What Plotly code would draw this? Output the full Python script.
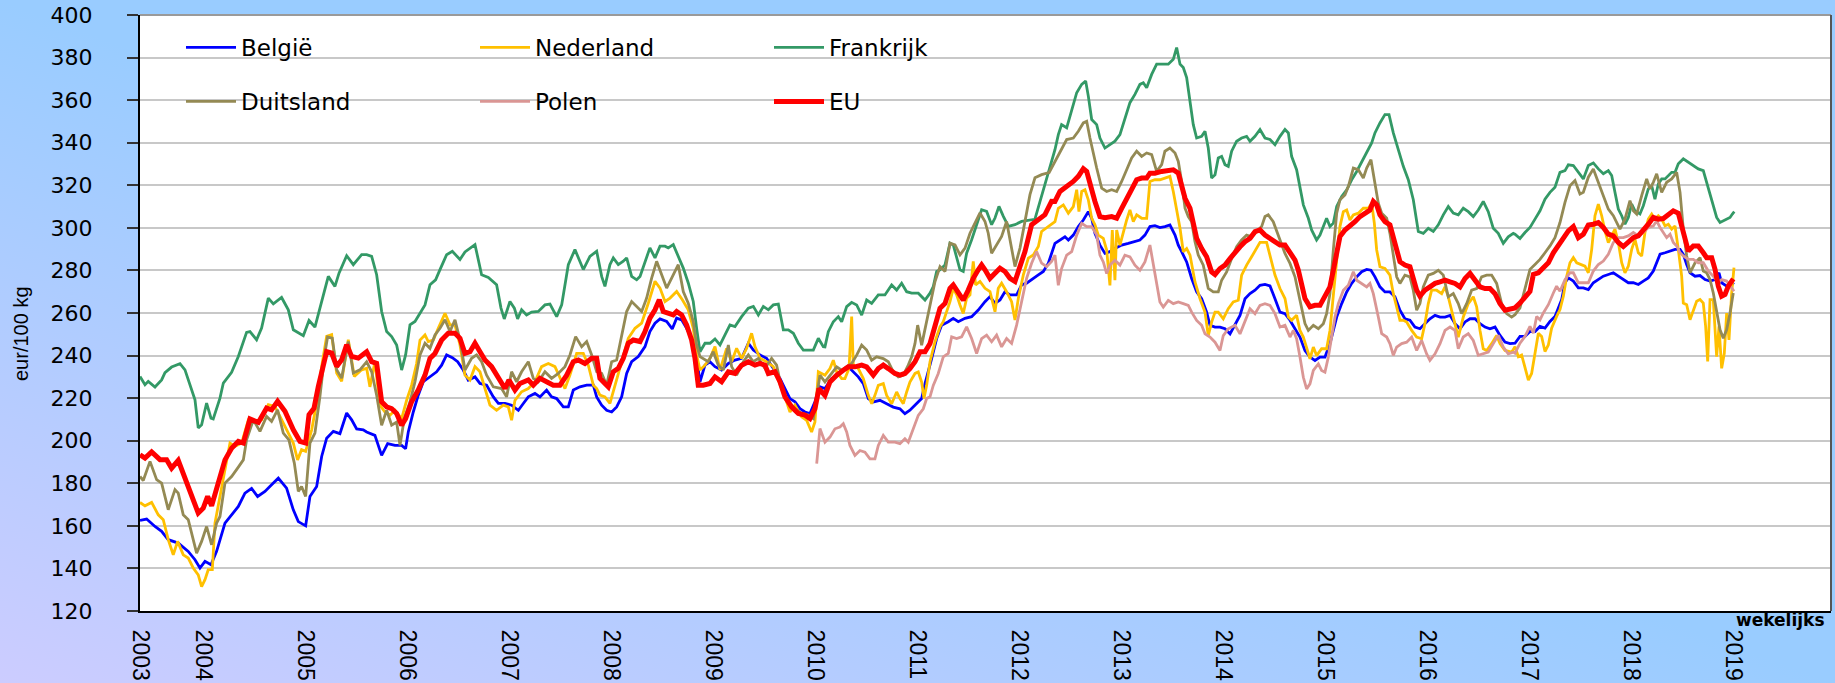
import base64
import plotly.graph_objects as go

# ---------------- data (decimal year, eur/100 kg) ----------------
X_START = 2003.377
X_END = 2019.955
YEARS = list(range(2004, 2020))
TICK_VALS = [X_START] + YEARS
TICK_TEXT = ["2003"] + [str(y) for y in YEARS]
Y_TICKS = list(range(120, 401, 20))

BELGIE = [
    (2003.377, 162.6), (2003.442, 163.2), (2003.524, 159.7), (2003.589, 157.4), (2003.654, 153.5),
    (2003.752, 151.9), (2003.850, 148.0), (2003.916, 144.1), (2003.965, 140.2), (2004.014, 143.3),
    (2004.073, 141.7), (2004.128, 148.0), (2004.210, 161.3), (2004.275, 165.2), (2004.341, 169.1),
    (2004.406, 175.4), (2004.471, 177.6), (2004.530, 173.8), (2004.602, 176.2), (2004.667, 179.3),
    (2004.733, 182.4), (2004.814, 177.7), (2004.880, 167.5), (2004.929, 162.0), (2005.001, 160.0),
    (2005.043, 173.8), (2005.109, 178.5), (2005.158, 192.6), (2005.207, 201.2), (2005.272, 204.4),
    (2005.337, 203.3), (2005.403, 213.0), (2005.452, 209.8), (2005.501, 205.5), (2005.566, 205.1),
    (2005.599, 204.1), (2005.680, 202.5), (2005.746, 193.1), (2005.805, 198.6), (2005.877, 197.8),
    (2005.942, 197.8), (2005.981, 196.2), (2006.007, 204.1), (2006.056, 213.5), (2006.105, 221.4),
    (2006.154, 227.7), (2006.220, 230.0), (2006.285, 232.4), (2006.334, 235.5), (2006.383, 240.3),
    (2006.439, 239.0), (2006.491, 237.1), (2006.546, 233.2), (2006.595, 228.5), (2006.661, 230.0),
    (2006.710, 226.9), (2006.775, 226.1), (2006.841, 220.6), (2006.890, 217.5), (2006.955, 217.5),
    (2007.020, 216.7), (2007.086, 214.3), (2007.135, 217.5), (2007.184, 220.6), (2007.249, 222.2),
    (2007.298, 220.6), (2007.363, 223.8), (2007.412, 220.6), (2007.462, 219.8), (2007.527, 215.9),
    (2007.576, 215.9), (2007.625, 223.8), (2007.690, 225.3), (2007.756, 226.1), (2007.821, 226.1),
    (2007.854, 220.6), (2007.903, 216.7), (2007.952, 214.3), (2008.001, 213.5), (2008.050, 215.9),
    (2008.099, 220.6), (2008.148, 231.6), (2008.197, 237.1), (2008.262, 239.5), (2008.328, 244.2),
    (2008.376, 251.3), (2008.426, 255.2), (2008.475, 257.2), (2008.540, 256.0), (2008.595, 252.5),
    (2008.638, 257.6), (2008.687, 256.8), (2008.736, 252.8), (2008.785, 248.1), (2008.834, 238.7),
    (2008.867, 227.7), (2008.916, 235.5), (2008.965, 237.1), (2009.014, 234.8), (2009.079, 233.2),
    (2009.145, 236.3), (2009.210, 237.9), (2009.275, 238.7), (2009.341, 245.8), (2009.390, 242.6),
    (2009.455, 240.3), (2009.520, 238.7), (2009.586, 234.0), (2009.651, 229.3), (2009.700, 224.5),
    (2009.749, 219.8), (2009.798, 218.3), (2009.847, 215.1), (2009.896, 213.5), (2009.945, 212.8),
    (2009.994, 218.3), (2010.043, 225.3), (2010.092, 224.5), (2010.158, 229.2), (2010.223, 230.8),
    (2010.272, 233.1), (2010.321, 234.7), (2010.370, 232.3), (2010.419, 230.0), (2010.468, 226.8),
    (2010.517, 219.8), (2010.566, 218.2), (2010.631, 219.0), (2010.697, 217.4), (2010.762, 215.8),
    (2010.827, 215.0), (2010.876, 212.7), (2010.925, 214.3), (2010.975, 216.6), (2011.007, 218.2),
    (2011.040, 219.8), (2011.073, 226.8), (2011.105, 232.3), (2011.138, 238.6), (2011.187, 248.0),
    (2011.236, 254.3), (2011.301, 255.9), (2011.350, 257.5), (2011.399, 255.9), (2011.465, 257.5),
    (2011.530, 258.3), (2011.595, 261.4), (2011.661, 265.3), (2011.710, 267.7), (2011.759, 264.5),
    (2011.808, 266.1), (2011.857, 270.0), (2011.906, 268.5), (2011.971, 268.5), (2012.020, 273.2),
    (2012.069, 274.0), (2012.118, 275.5), (2012.184, 277.9), (2012.233, 279.5), (2012.282, 283.4),
    (2012.347, 292.7), (2012.396, 294.3), (2012.445, 295.8), (2012.478, 294.3), (2012.527, 296.6),
    (2012.576, 300.6), (2012.625, 303.7), (2012.674, 307.6), (2012.707, 304.5), (2012.739, 297.4),
    (2012.788, 291.9), (2012.837, 288.0), (2012.886, 288.8), (2012.935, 290.3), (2013.001, 291.9),
    (2013.066, 292.7), (2013.131, 293.5), (2013.180, 294.3), (2013.229, 296.6), (2013.278, 300.6),
    (2013.327, 301.0), (2013.376, 300.1), (2013.425, 300.6), (2013.474, 301.4), (2013.524, 296.6),
    (2013.556, 291.9), (2013.589, 288.8), (2013.638, 284.0), (2013.687, 276.2), (2013.736, 269.9),
    (2013.785, 266.7), (2013.834, 260.4), (2013.867, 254.2), (2013.916, 253.4), (2013.965, 253.4),
    (2014.014, 252.6), (2014.063, 250.2), (2014.112, 254.9), (2014.161, 258.9), (2014.210, 266.7),
    (2014.259, 269.1), (2014.308, 270.7), (2014.357, 273.0), (2014.406, 273.4), (2014.455, 272.7),
    (2014.504, 266.7), (2014.553, 260.4), (2014.602, 259.7), (2014.651, 256.6), (2014.700, 252.6),
    (2014.749, 248.7), (2014.798, 242.4), (2014.847, 239.3), (2014.896, 237.7), (2014.945, 239.3),
    (2014.994, 239.3), (2015.043, 245.6), (2015.076, 251.8), (2015.109, 258.1), (2015.158, 264.4),
    (2015.207, 269.9), (2015.256, 273.9), (2015.305, 277.0), (2015.354, 279.4), (2015.403, 280.5),
    (2015.445, 280.1), (2015.484, 277.0), (2015.533, 272.3), (2015.582, 269.9), (2015.631, 269.9),
    (2015.680, 267.6), (2015.729, 261.3), (2015.778, 257.3), (2015.827, 256.6), (2015.876, 253.4),
    (2015.925, 252.6), (2015.974, 255.0), (2016.023, 257.3), (2016.073, 258.9), (2016.122, 258.1),
    (2016.171, 258.1), (2016.220, 258.9), (2016.269, 255.0), (2016.318, 252.6), (2016.367, 255.8),
    (2016.416, 257.3), (2016.465, 257.3), (2016.514, 255.0), (2016.563, 253.4), (2016.612, 252.6),
    (2016.661, 253.4), (2016.710, 249.5), (2016.759, 246.3), (2016.808, 245.6), (2016.857, 245.8),
    (2016.906, 249.0), (2016.955, 249.0), (2017.004, 251.3), (2017.053, 251.3), (2017.102, 253.7),
    (2017.151, 252.9), (2017.200, 256.0), (2017.249, 258.4), (2017.282, 262.4), (2017.315, 266.3),
    (2017.347, 274.2), (2017.380, 276.5), (2017.429, 275.0), (2017.478, 271.8), (2017.527, 271.8),
    (2017.576, 271.0), (2017.625, 274.2), (2017.674, 275.7), (2017.723, 277.3), (2017.772, 278.1),
    (2017.821, 278.9), (2017.870, 277.3), (2017.919, 275.7), (2017.968, 274.2), (2018.017, 274.2),
    (2018.066, 273.4), (2018.115, 275.0), (2018.164, 276.5), (2018.213, 279.7), (2018.246, 283.6),
    (2018.279, 287.6), (2018.328, 288.3), (2018.377, 289.1), (2018.426, 289.9), (2018.475, 289.9),
    (2018.507, 287.6), (2018.540, 282.8), (2018.573, 278.9), (2018.622, 277.3), (2018.671, 277.6),
    (2018.720, 275.7), (2018.769, 275.0), (2018.818, 275.7), (2018.857, 278.9), (2018.883, 274.2),
    (2018.932, 272.6), (2018.981, 274.2), (2019.004, 273.4),
]

NEDERLAND = [
    (2003.377, 171.0), (2003.426, 169.4), (2003.491, 171.0), (2003.556, 165.2), (2003.605, 162.9),
    (2003.654, 153.5), (2003.703, 146.4), (2003.746, 152.7), (2003.801, 146.4), (2003.850, 144.9),
    (2003.899, 140.2), (2003.948, 137.0), (2003.981, 131.5), (2004.014, 134.7), (2004.046, 139.4),
    (2004.086, 139.4), (2004.112, 161.3), (2004.161, 173.8), (2004.210, 186.4), (2004.259, 198.9),
    (2004.308, 197.3), (2004.373, 198.9), (2004.439, 209.8), (2004.504, 209.1), (2004.569, 209.8),
    (2004.635, 216.9), (2004.700, 216.1), (2004.765, 209.8), (2004.831, 203.6), (2004.880, 198.9),
    (2004.922, 191.0), (2004.961, 195.8), (2005.001, 195.0), (2005.060, 205.1), (2005.109, 217.7),
    (2005.158, 234.9), (2005.207, 249.0), (2005.256, 249.8), (2005.305, 231.8), (2005.354, 227.9),
    (2005.419, 247.4), (2005.478, 230.2), (2005.550, 233.3), (2005.599, 234.0), (2005.631, 225.3),
    (2005.680, 237.1), (2005.729, 216.7), (2005.778, 213.5), (2005.827, 212.0), (2005.877, 214.3),
    (2005.942, 210.4), (2005.991, 219.0), (2006.040, 226.1), (2006.089, 236.3), (2006.122, 247.3),
    (2006.171, 249.7), (2006.203, 246.6), (2006.252, 247.3), (2006.301, 252.8), (2006.367, 259.9),
    (2006.416, 254.4), (2006.465, 254.4), (2006.514, 245.0), (2006.563, 230.8), (2006.612, 228.5),
    (2006.661, 234.8), (2006.710, 232.4), (2006.759, 224.5), (2006.808, 216.7), (2006.873, 214.3),
    (2006.939, 216.7), (2006.988, 215.9), (2007.020, 209.6), (2007.053, 219.0), (2007.118, 223.0),
    (2007.184, 224.5), (2007.249, 227.7), (2007.314, 234.8), (2007.380, 236.3), (2007.445, 234.8),
    (2007.494, 229.3), (2007.543, 224.5), (2007.592, 230.8), (2007.658, 241.0), (2007.723, 241.0),
    (2007.772, 235.5), (2007.821, 226.1), (2007.854, 224.5), (2007.886, 221.4), (2007.935, 220.6),
    (2007.984, 217.5), (2008.033, 226.1), (2008.099, 237.1), (2008.164, 248.1), (2008.230, 252.8),
    (2008.295, 255.2), (2008.360, 264.6), (2008.426, 274.9), (2008.475, 271.7), (2008.524, 265.4),
    (2008.573, 267.0), (2008.638, 270.1), (2008.694, 266.2), (2008.752, 261.5), (2008.801, 252.8),
    (2008.834, 240.3), (2008.867, 233.2), (2008.916, 235.5), (2008.965, 238.7), (2009.014, 244.2),
    (2009.063, 233.2), (2009.128, 243.4), (2009.177, 237.1), (2009.226, 243.4), (2009.275, 238.7),
    (2009.324, 243.4), (2009.373, 250.5), (2009.406, 244.2), (2009.455, 238.7), (2009.520, 237.1),
    (2009.586, 234.8), (2009.651, 226.9), (2009.716, 218.3), (2009.749, 213.5), (2009.798, 216.7),
    (2009.863, 211.2), (2009.912, 209.6), (2009.961, 204.1), (2009.994, 208.8), (2010.027, 232.4),
    (2010.092, 230.8), (2010.141, 233.9), (2010.174, 237.8), (2010.207, 232.3), (2010.256, 229.2),
    (2010.288, 229.2), (2010.328, 233.9), (2010.354, 258.3), (2010.370, 235.5), (2010.419, 233.9),
    (2010.468, 229.2), (2010.517, 221.3), (2010.550, 217.4), (2010.582, 221.3), (2010.615, 226.0),
    (2010.664, 226.8), (2010.697, 221.3), (2010.746, 217.4), (2010.795, 222.9), (2010.827, 219.8),
    (2010.860, 217.4), (2010.893, 222.9), (2010.925, 227.6), (2010.975, 231.6), (2011.007, 232.3),
    (2011.040, 227.6), (2011.063, 219.8), (2011.089, 226.0), (2011.122, 237.1), (2011.171, 246.5),
    (2011.220, 253.5), (2011.252, 255.9), (2011.285, 260.6), (2011.318, 265.3), (2011.350, 271.6),
    (2011.383, 268.5), (2011.416, 263.8), (2011.448, 259.8), (2011.481, 266.9), (2011.514, 268.5),
    (2011.546, 284.2), (2011.569, 273.2), (2011.612, 274.8), (2011.661, 271.6), (2011.710, 270.0),
    (2011.759, 260.6), (2011.791, 271.6), (2011.824, 274.0), (2011.873, 270.0), (2011.922, 265.3),
    (2011.955, 256.7), (2011.988, 266.9), (2012.037, 277.9), (2012.086, 285.8), (2012.135, 287.3),
    (2012.184, 291.2), (2012.216, 298.3), (2012.265, 300.0), (2012.314, 301.5), (2012.347, 302.9),
    (2012.380, 309.2), (2012.429, 310.8), (2012.478, 306.9), (2012.527, 310.0), (2012.560, 317.9),
    (2012.582, 307.6), (2012.609, 317.1), (2012.641, 317.9), (2012.674, 313.2), (2012.707, 304.5),
    (2012.739, 301.4), (2012.772, 296.6), (2012.821, 295.1), (2012.854, 289.6), (2012.886, 273.0),
    (2012.909, 299.0), (2012.935, 275.4), (2012.952, 299.0), (2012.984, 291.9), (2013.017, 298.2),
    (2013.050, 303.7), (2013.082, 308.4), (2013.115, 302.9), (2013.148, 306.1), (2013.197, 304.5),
    (2013.246, 304.5), (2013.278, 321.8), (2013.327, 322.6), (2013.376, 322.6), (2013.425, 323.4),
    (2013.474, 324.2), (2013.507, 317.1), (2013.540, 309.2), (2013.573, 299.8), (2013.605, 288.8),
    (2013.638, 290.3), (2013.671, 287.2), (2013.720, 274.6), (2013.769, 266.7), (2013.818, 260.4),
    (2013.850, 249.4), (2013.883, 255.7), (2013.916, 260.4), (2013.948, 260.4), (2013.997, 257.3),
    (2014.046, 262.0), (2014.095, 265.2), (2014.144, 266.0), (2014.177, 277.8), (2014.226, 282.5),
    (2014.275, 286.4), (2014.324, 290.3), (2014.357, 293.2), (2014.422, 293.2), (2014.455, 287.2),
    (2014.504, 277.8), (2014.553, 271.5), (2014.602, 266.8), (2014.635, 258.1), (2014.667, 256.6),
    (2014.716, 258.9), (2014.749, 251.8), (2014.782, 248.7), (2014.814, 243.2), (2014.847, 238.5),
    (2014.880, 244.0), (2014.912, 240.0), (2014.961, 243.2), (2015.010, 243.2), (2015.043, 251.8),
    (2015.076, 269.1), (2015.109, 286.4), (2015.141, 300.6), (2015.174, 307.6), (2015.207, 308.4),
    (2015.239, 303.7), (2015.272, 306.1), (2015.321, 306.9), (2015.370, 309.2), (2015.419, 309.2),
    (2015.452, 311.6), (2015.478, 302.2), (2015.501, 289.6), (2015.533, 281.7), (2015.582, 280.9),
    (2015.631, 277.8), (2015.664, 269.1), (2015.697, 262.9), (2015.729, 256.6), (2015.762, 256.6),
    (2015.795, 255.8), (2015.844, 251.8), (2015.893, 248.7), (2015.942, 247.9), (2015.974, 255.0),
    (2016.007, 264.4), (2016.040, 270.7), (2016.089, 270.7), (2016.138, 269.1), (2016.171, 272.3),
    (2016.203, 267.6), (2016.252, 258.1), (2016.301, 248.7), (2016.350, 258.1), (2016.399, 264.4),
    (2016.448, 267.6), (2016.481, 262.9), (2016.514, 251.8), (2016.546, 243.2), (2016.579, 242.4),
    (2016.628, 245.6), (2016.677, 249.5), (2016.710, 245.6), (2016.759, 242.4), (2016.824, 241.6),
    (2016.857, 244.2), (2016.890, 239.5), (2016.922, 240.3), (2016.955, 234.8), (2016.988, 228.5),
    (2017.020, 231.6), (2017.053, 241.1), (2017.086, 250.5), (2017.118, 249.0), (2017.151, 241.9),
    (2017.184, 245.0), (2017.216, 252.9), (2017.265, 258.4), (2017.298, 261.6), (2017.331, 267.9),
    (2017.364, 277.3), (2017.396, 283.6), (2017.429, 286.0), (2017.462, 283.6), (2017.511, 282.8),
    (2017.543, 282.0), (2017.576, 278.9), (2017.609, 289.9), (2017.641, 305.7), (2017.674, 311.2),
    (2017.707, 305.7), (2017.739, 298.6), (2017.772, 293.1), (2017.805, 296.2), (2017.837, 299.4),
    (2017.870, 293.1), (2017.903, 283.6), (2017.935, 278.9), (2017.968, 282.0), (2018.001, 289.9),
    (2018.033, 294.6), (2018.066, 288.3), (2018.099, 286.8), (2018.131, 297.8), (2018.164, 304.1),
    (2018.197, 306.5), (2018.229, 304.1), (2018.262, 305.7), (2018.295, 304.1), (2018.328, 300.9),
    (2018.360, 301.7), (2018.393, 299.4), (2018.426, 300.9), (2018.458, 289.9), (2018.491, 277.3),
    (2018.507, 264.7), (2018.540, 263.9), (2018.573, 256.8), (2018.605, 261.6), (2018.638, 265.5),
    (2018.671, 266.3), (2018.703, 264.7), (2018.726, 253.7), (2018.746, 237.2), (2018.769, 266.3),
    (2018.801, 266.3), (2018.834, 239.5), (2018.857, 253.7), (2018.883, 234.0), (2018.909, 241.1),
    (2018.932, 260.0), (2018.955, 247.4), (2018.981, 269.4), (2019.004, 281.3),
]

FRANKRIJK = [
    (2003.377, 230.2), (2003.426, 226.3), (2003.458, 227.9), (2003.524, 225.2), (2003.589, 228.6),
    (2003.622, 232.0), (2003.687, 234.6), (2003.769, 236.2), (2003.818, 233.3), (2003.883, 223.2),
    (2003.916, 219.2), (2003.948, 206.0), (2003.981, 207.5), (2004.030, 217.7), (2004.073, 210.6),
    (2004.095, 210.2), (2004.161, 220.0), (2004.194, 227.1), (2004.275, 232.1), (2004.341, 239.6),
    (2004.422, 250.9), (2004.455, 251.3), (2004.520, 247.4), (2004.569, 252.9), (2004.635, 267.0),
    (2004.684, 264.3), (2004.765, 267.3), (2004.831, 261.5), (2004.880, 252.1), (2004.978, 249.3),
    (2005.034, 256.5), (2005.092, 253.4), (2005.158, 265.0), (2005.223, 277.2), (2005.288, 272.5),
    (2005.328, 278.7), (2005.403, 286.9), (2005.468, 282.7), (2005.550, 287.4), (2005.599, 287.4),
    (2005.648, 286.6), (2005.697, 278.0), (2005.746, 260.7), (2005.795, 251.3), (2005.844, 248.9),
    (2005.893, 245.0), (2005.942, 233.2), (2005.981, 240.3), (2006.024, 254.4), (2006.073, 256.0),
    (2006.122, 259.9), (2006.171, 263.8), (2006.220, 273.3), (2006.275, 275.6), (2006.318, 280.4),
    (2006.383, 287.4), (2006.439, 289.0), (2006.481, 286.6), (2006.514, 285.1), (2006.563, 288.7),
    (2006.612, 290.6), (2006.661, 292.1), (2006.726, 278.0), (2006.792, 276.7), (2006.873, 273.3),
    (2006.916, 262.3), (2006.948, 257.2), (2007.004, 265.4), (2007.047, 262.3), (2007.079, 257.2),
    (2007.118, 261.5), (2007.167, 259.1), (2007.216, 260.4), (2007.282, 260.7), (2007.347, 263.8),
    (2007.396, 264.2), (2007.462, 258.3), (2007.511, 263.8), (2007.576, 282.7), (2007.641, 289.8),
    (2007.723, 280.4), (2007.788, 286.6), (2007.854, 289.0), (2007.903, 277.2), (2007.935, 272.5),
    (2007.984, 282.7), (2008.017, 285.9), (2008.066, 282.7), (2008.115, 284.3), (2008.148, 285.9),
    (2008.197, 277.2), (2008.246, 275.6), (2008.279, 277.2), (2008.328, 284.3), (2008.376, 290.6),
    (2008.426, 285.9), (2008.475, 291.4), (2008.524, 291.4), (2008.556, 290.6), (2008.605, 292.1),
    (2008.654, 286.6), (2008.703, 281.1), (2008.752, 274.1), (2008.801, 265.4), (2008.834, 252.8),
    (2008.867, 241.8), (2008.916, 245.8), (2008.965, 245.8), (2009.014, 247.8), (2009.063, 245.0),
    (2009.112, 249.7), (2009.161, 254.4), (2009.210, 253.6), (2009.275, 258.3), (2009.341, 262.3),
    (2009.390, 263.1), (2009.439, 259.1), (2009.488, 263.1), (2009.537, 261.5), (2009.586, 263.8),
    (2009.635, 264.2), (2009.684, 252.1), (2009.733, 252.1), (2009.782, 250.5), (2009.831, 245.8),
    (2009.880, 242.6), (2009.929, 242.6), (2009.978, 242.6), (2010.027, 248.1), (2010.076, 244.2),
    (2010.092, 244.1), (2010.125, 251.2), (2010.174, 255.9), (2010.223, 258.3), (2010.256, 255.9),
    (2010.305, 263.0), (2010.354, 265.0), (2010.403, 263.8), (2010.452, 259.0), (2010.501, 266.1),
    (2010.550, 264.5), (2010.615, 268.5), (2010.680, 268.5), (2010.746, 273.2), (2010.795, 270.8),
    (2010.844, 274.0), (2010.893, 270.0), (2010.942, 269.3), (2011.007, 269.3), (2011.073, 266.1),
    (2011.122, 269.3), (2011.154, 272.4), (2011.187, 279.5), (2011.220, 280.3), (2011.269, 282.6),
    (2011.318, 292.8), (2011.350, 292.0), (2011.383, 285.8), (2011.416, 280.3), (2011.448, 279.5),
    (2011.481, 288.1), (2011.530, 294.4), (2011.579, 301.5), (2011.628, 308.5), (2011.677, 307.7),
    (2011.726, 301.5), (2011.759, 304.6), (2011.798, 310.1), (2011.841, 305.4), (2011.890, 300.7),
    (2011.955, 301.5), (2012.020, 303.0), (2012.150, 304.0), (2012.250, 320.0), (2012.300, 328.0),
    (2012.347, 336.7), (2012.380, 343.8), (2012.412, 348.5), (2012.462, 347.0), (2012.511, 355.6),
    (2012.560, 363.5), (2012.609, 367.4), (2012.648, 369.0), (2012.674, 361.9), (2012.707, 350.9),
    (2012.756, 348.5), (2012.788, 342.2), (2012.837, 337.5), (2012.886, 339.1), (2012.935, 340.7),
    (2012.984, 343.8), (2013.033, 350.9), (2013.082, 358.8), (2013.131, 362.7), (2013.180, 367.4),
    (2013.213, 368.2), (2013.246, 365.8), (2013.295, 372.1), (2013.344, 376.9), (2013.393, 376.9),
    (2013.458, 376.9), (2013.507, 379.2), (2013.540, 384.7), (2013.573, 376.9), (2013.605, 375.3),
    (2013.638, 370.6), (2013.671, 359.6), (2013.703, 348.5), (2013.736, 342.2), (2013.785, 343.0),
    (2013.818, 345.4), (2013.850, 337.5), (2013.883, 323.4), (2013.916, 324.9), (2013.948, 332.8),
    (2013.981, 333.6), (2014.014, 329.7), (2014.046, 328.9), (2014.079, 336.0), (2014.128, 340.7),
    (2014.177, 342.2), (2014.226, 343.0), (2014.259, 340.7), (2014.308, 343.0), (2014.357, 346.2),
    (2014.406, 342.2), (2014.455, 341.5), (2014.504, 339.1), (2014.553, 343.0), (2014.602, 346.2),
    (2014.635, 344.6), (2014.667, 333.6), (2014.716, 327.3), (2014.749, 319.4), (2014.782, 310.8),
    (2014.831, 304.5), (2014.863, 299.0), (2014.912, 294.3), (2014.945, 296.6), (2014.978, 300.6),
    (2015.010, 304.5), (2015.043, 300.6), (2015.076, 302.2), (2015.109, 310.0), (2015.158, 314.7),
    (2015.207, 317.9), (2015.256, 322.6), (2015.305, 326.5), (2015.354, 331.2), (2015.403, 335.2),
    (2015.452, 339.9), (2015.484, 344.6), (2015.533, 349.3), (2015.582, 353.2), (2015.622, 353.2),
    (2015.664, 344.6), (2015.713, 336.7), (2015.762, 328.9), (2015.811, 322.6), (2015.860, 313.2),
    (2015.909, 298.3), (2015.958, 297.4), (2016.007, 299.8), (2016.056, 298.3), (2016.105, 301.4),
    (2016.154, 306.1), (2016.203, 310.0), (2016.252, 306.9), (2016.301, 306.1), (2016.350, 309.2),
    (2016.399, 307.6), (2016.448, 305.3), (2016.497, 308.4), (2016.546, 312.4), (2016.595, 307.6),
    (2016.644, 299.8), (2016.693, 297.4), (2016.742, 292.7), (2016.791, 295.8), (2016.840, 297.4),
    (2016.857, 297.0), (2016.906, 295.0), (2016.955, 297.8), (2017.004, 300.2), (2017.053, 304.1),
    (2017.102, 308.0), (2017.151, 313.5), (2017.200, 316.7), (2017.249, 319.1), (2017.298, 326.1),
    (2017.347, 326.9), (2017.380, 329.6), (2017.429, 329.3), (2017.478, 326.1), (2017.527, 323.0),
    (2017.576, 329.3), (2017.625, 330.5), (2017.674, 327.7), (2017.723, 325.4), (2017.772, 326.9),
    (2017.805, 324.6), (2017.837, 316.7), (2017.870, 308.8), (2017.903, 305.7), (2017.935, 301.7),
    (2017.968, 304.9), (2018.001, 311.2), (2018.033, 308.0), (2018.082, 306.5), (2018.115, 310.4),
    (2018.164, 318.3), (2018.197, 319.8), (2018.229, 313.5), (2018.262, 320.6), (2018.295, 323.0),
    (2018.328, 323.0), (2018.360, 324.6), (2018.393, 326.1), (2018.426, 326.1), (2018.458, 330.1),
    (2018.507, 332.4), (2018.556, 330.9), (2018.605, 329.3), (2018.654, 327.7), (2018.703, 326.9),
    (2018.736, 321.4), (2018.769, 315.1), (2018.801, 310.4), (2018.834, 304.9), (2018.867, 302.5),
    (2018.916, 303.8), (2018.965, 304.9), (2018.988, 306.5), (2019.007, 307.6),
]

DUITSLAND = [
    (2003.377, 183.2), (2003.409, 181.3), (2003.475, 190.3), (2003.540, 181.7), (2003.589, 180.1),
    (2003.654, 167.6), (2003.720, 177.0), (2003.752, 175.4), (2003.801, 165.2), (2003.850, 162.9),
    (2003.932, 147.2), (2003.981, 152.7), (2004.030, 159.7), (2004.079, 151.1), (2004.128, 161.3),
    (2004.161, 164.4), (2004.210, 180.1), (2004.275, 183.2), (2004.341, 187.6), (2004.390, 191.0),
    (2004.422, 200.4), (2004.488, 209.8), (2004.553, 204.4), (2004.618, 211.4), (2004.667, 209.1),
    (2004.726, 214.5), (2004.782, 203.6), (2004.837, 200.4), (2004.890, 189.5), (2004.929, 176.2),
    (2004.961, 178.5), (2005.001, 173.8), (2005.043, 198.9), (2005.092, 203.6), (2005.141, 220.8),
    (2005.190, 241.2), (2005.216, 248.7), (2005.262, 248.2), (2005.305, 233.3), (2005.354, 229.4),
    (2005.419, 246.6), (2005.468, 231.8), (2005.533, 233.3), (2005.599, 237.1), (2005.648, 232.4),
    (2005.697, 221.4), (2005.746, 207.3), (2005.795, 214.3), (2005.844, 207.3), (2005.893, 208.8),
    (2005.926, 197.8), (2005.968, 210.4), (2006.024, 218.3), (2006.073, 227.7), (2006.122, 240.3),
    (2006.171, 245.8), (2006.220, 243.4), (2006.269, 249.7), (2006.318, 252.8), (2006.367, 256.8),
    (2006.416, 251.3), (2006.465, 256.8), (2006.514, 247.3), (2006.563, 233.2), (2006.628, 238.7),
    (2006.677, 240.3), (2006.726, 237.1), (2006.775, 230.8), (2006.841, 225.3), (2006.922, 224.5),
    (2006.971, 220.6), (2007.020, 232.4), (2007.069, 227.7), (2007.118, 232.4), (2007.184, 237.1),
    (2007.233, 229.3), (2007.282, 227.7), (2007.347, 232.4), (2007.412, 229.3), (2007.478, 231.6),
    (2007.543, 234.8), (2007.592, 240.3), (2007.648, 248.9), (2007.707, 244.2), (2007.756, 246.6),
    (2007.805, 240.3), (2007.854, 232.4), (2007.903, 231.6), (2007.952, 226.1), (2008.001, 237.1),
    (2008.050, 237.9), (2008.099, 249.7), (2008.148, 260.7), (2008.197, 265.4), (2008.246, 263.1),
    (2008.295, 260.7), (2008.344, 267.0), (2008.393, 276.4), (2008.442, 284.3), (2008.491, 278.0),
    (2008.540, 271.7), (2008.589, 276.4), (2008.654, 282.7), (2008.703, 270.1), (2008.752, 264.6),
    (2008.801, 256.0), (2008.834, 245.0), (2008.867, 239.5), (2008.899, 238.7), (2008.948, 237.1),
    (2008.997, 241.8), (2009.046, 235.5), (2009.096, 233.2), (2009.145, 245.0), (2009.177, 234.8),
    (2009.226, 230.8), (2009.292, 237.1), (2009.341, 240.3), (2009.390, 237.1), (2009.439, 238.7),
    (2009.504, 234.0), (2009.569, 238.7), (2009.618, 235.5), (2009.667, 224.5), (2009.733, 218.3),
    (2009.798, 215.1), (2009.863, 212.8), (2009.929, 212.0), (2009.978, 210.4), (2010.011, 221.4),
    (2010.043, 230.8), (2010.092, 227.6), (2010.141, 230.8), (2010.207, 234.7), (2010.256, 233.1),
    (2010.305, 234.7), (2010.354, 236.3), (2010.403, 240.2), (2010.452, 244.9), (2010.501, 242.6),
    (2010.550, 237.8), (2010.599, 239.4), (2010.664, 238.6), (2010.713, 237.1), (2010.762, 232.3),
    (2010.811, 230.0), (2010.860, 230.8), (2010.909, 235.5), (2010.942, 239.4), (2010.975, 245.7),
    (2011.001, 254.3), (2011.040, 244.9), (2011.073, 252.8), (2011.122, 263.8), (2011.171, 274.8),
    (2011.220, 281.8), (2011.269, 279.5), (2011.318, 292.8), (2011.367, 292.0), (2011.416, 287.3),
    (2011.465, 290.5), (2011.514, 297.5), (2011.563, 302.2), (2011.612, 307.0), (2011.661, 303.0),
    (2011.693, 297.5), (2011.726, 288.1), (2011.775, 292.0), (2011.824, 296.0), (2011.873, 303.0),
    (2011.922, 290.5), (2011.955, 281.8), (2012.004, 290.5), (2012.053, 303.0), (2012.102, 315.6),
    (2012.151, 323.5), (2012.216, 325.0), (2012.290, 326.0), (2012.347, 331.2), (2012.412, 337.5),
    (2012.462, 341.5), (2012.527, 342.2), (2012.576, 345.4), (2012.625, 349.3), (2012.658, 350.1),
    (2012.690, 342.2), (2012.723, 334.4), (2012.756, 328.1), (2012.805, 318.7), (2012.854, 317.1),
    (2012.903, 317.9), (2012.952, 317.1), (2013.001, 321.8), (2013.050, 327.3), (2013.099, 332.8),
    (2013.148, 336.0), (2013.197, 333.6), (2013.246, 335.2), (2013.295, 334.4), (2013.344, 326.5),
    (2013.393, 329.7), (2013.425, 336.0), (2013.474, 337.5), (2013.524, 335.2), (2013.556, 331.2),
    (2013.589, 321.8), (2013.622, 309.2), (2013.654, 305.3), (2013.687, 302.9), (2013.720, 293.5),
    (2013.752, 287.2), (2013.801, 282.5), (2013.850, 271.5), (2013.899, 269.9), (2013.948, 269.9),
    (2013.981, 275.4), (2014.030, 279.3), (2014.079, 285.6), (2014.128, 291.1), (2014.177, 294.3),
    (2014.226, 296.6), (2014.275, 295.8), (2014.324, 298.2), (2014.373, 300.6), (2014.406, 305.3),
    (2014.438, 306.1), (2014.487, 302.9), (2014.537, 296.6), (2014.586, 290.3), (2014.602, 288.0),
    (2014.651, 283.3), (2014.700, 277.0), (2014.749, 266.0), (2014.798, 255.0), (2014.831, 251.8),
    (2014.880, 254.2), (2014.929, 252.6), (2014.978, 255.0), (2015.010, 259.7), (2015.043, 269.1),
    (2015.076, 289.6), (2015.109, 306.9), (2015.141, 313.2), (2015.190, 315.5), (2015.223, 319.4),
    (2015.272, 328.1), (2015.321, 327.3), (2015.370, 323.4), (2015.403, 328.1), (2015.445, 332.0),
    (2015.478, 322.6), (2015.517, 311.6), (2015.550, 306.9), (2015.599, 304.5), (2015.631, 297.4),
    (2015.664, 286.4), (2015.697, 277.0), (2015.729, 273.9), (2015.778, 277.8), (2015.827, 277.0),
    (2015.860, 270.7), (2015.893, 261.3), (2015.925, 264.4), (2015.958, 272.3), (2016.007, 277.8),
    (2016.056, 278.6), (2016.105, 280.1), (2016.154, 277.8), (2016.203, 267.6), (2016.252, 269.1),
    (2016.301, 264.4), (2016.334, 259.7), (2016.383, 264.4), (2016.432, 270.7), (2016.481, 271.5),
    (2016.530, 277.0), (2016.579, 277.8), (2016.628, 277.8), (2016.677, 273.9), (2016.726, 264.4),
    (2016.775, 259.7), (2016.824, 258.1), (2016.857, 259.2), (2016.906, 262.4), (2016.955, 271.0),
    (2017.004, 280.5), (2017.053, 282.8), (2017.102, 285.2), (2017.151, 288.3), (2017.200, 291.5),
    (2017.249, 295.4), (2017.298, 302.5), (2017.347, 312.0), (2017.396, 319.8), (2017.445, 322.2),
    (2017.494, 315.9), (2017.527, 316.7), (2017.576, 323.8), (2017.625, 327.7), (2017.674, 321.4),
    (2017.723, 315.1), (2017.772, 308.8), (2017.821, 305.7), (2017.854, 302.5), (2017.886, 299.4),
    (2017.935, 304.1), (2017.984, 312.8), (2018.017, 308.0), (2018.050, 306.5), (2018.099, 315.1),
    (2018.148, 323.0), (2018.180, 318.3), (2018.213, 321.4), (2018.246, 325.4), (2018.295, 316.7),
    (2018.344, 321.4), (2018.393, 323.0), (2018.442, 326.1), (2018.475, 316.7), (2018.507, 299.4),
    (2018.540, 286.8), (2018.573, 278.9), (2018.622, 283.6), (2018.671, 286.0), (2018.703, 279.7),
    (2018.736, 278.9), (2018.769, 275.7), (2018.801, 269.4), (2018.834, 260.0), (2018.867, 252.1),
    (2018.899, 248.2), (2018.932, 252.1), (2018.965, 260.0), (2018.997, 269.4),
]

POLEN = [
    (2010.011, 189.2), (2010.043, 205.7), (2010.092, 199.3), (2010.141, 201.7), (2010.190, 205.6),
    (2010.239, 206.4), (2010.272, 208.0), (2010.305, 204.1), (2010.337, 197.8), (2010.386, 193.1),
    (2010.435, 195.4), (2010.484, 194.6), (2010.533, 191.5), (2010.582, 191.5), (2010.615, 197.8),
    (2010.664, 202.5), (2010.713, 199.3), (2010.778, 199.3), (2010.827, 198.6), (2010.876, 200.9),
    (2010.909, 199.3), (2010.958, 205.6), (2011.007, 211.9), (2011.056, 215.0), (2011.089, 219.8),
    (2011.122, 220.6), (2011.154, 226.0), (2011.203, 231.6), (2011.252, 239.4), (2011.301, 241.0),
    (2011.334, 248.8), (2011.383, 248.0), (2011.432, 248.8), (2011.481, 253.5), (2011.530, 248.0),
    (2011.579, 241.0), (2011.628, 248.0), (2011.677, 249.6), (2011.726, 246.5), (2011.775, 249.6),
    (2011.824, 244.1), (2011.873, 248.0), (2011.922, 245.7), (2011.971, 254.3), (2012.020, 265.3),
    (2012.069, 276.3), (2012.118, 283.4), (2012.167, 288.9), (2012.216, 283.4), (2012.265, 281.8),
    (2012.314, 284.2), (2012.347, 287.2), (2012.380, 273.0), (2012.412, 280.9), (2012.462, 287.2),
    (2012.511, 288.8), (2012.560, 296.6), (2012.609, 302.1), (2012.658, 300.6), (2012.707, 300.6),
    (2012.756, 296.6), (2012.788, 287.2), (2012.821, 284.0), (2012.854, 278.5), (2012.886, 282.5),
    (2012.935, 284.8), (2012.984, 282.5), (2013.033, 287.2), (2013.082, 286.4), (2013.131, 282.5),
    (2013.180, 280.1), (2013.229, 284.0), (2013.278, 291.9), (2013.311, 282.5), (2013.344, 274.6),
    (2013.376, 265.2), (2013.409, 262.8), (2013.458, 265.9), (2013.507, 264.4), (2013.556, 265.2),
    (2013.605, 264.4), (2013.654, 263.6), (2013.687, 260.4), (2013.736, 256.5), (2013.785, 254.2),
    (2013.818, 250.2), (2013.867, 248.7), (2013.916, 246.3), (2013.965, 242.4), (2013.997, 249.4),
    (2014.046, 252.6), (2014.112, 254.2), (2014.161, 250.2), (2014.210, 256.5), (2014.259, 262.0),
    (2014.308, 259.7), (2014.357, 263.6), (2014.406, 264.4), (2014.455, 263.6), (2014.504, 259.7),
    (2014.553, 253.4), (2014.602, 254.2), (2014.651, 248.7), (2014.684, 251.8), (2014.716, 247.9),
    (2014.749, 239.3), (2014.782, 229.8), (2014.814, 224.3), (2014.847, 226.7), (2014.880, 233.0),
    (2014.929, 236.1), (2014.961, 233.0), (2014.994, 232.2), (2015.027, 239.3), (2015.060, 248.7),
    (2015.092, 258.1), (2015.125, 264.4), (2015.174, 270.7), (2015.223, 273.1), (2015.272, 279.4),
    (2015.305, 275.4), (2015.354, 273.9), (2015.403, 272.3), (2015.435, 273.9), (2015.468, 269.1),
    (2015.517, 258.1), (2015.550, 250.3), (2015.599, 248.7), (2015.631, 245.6), (2015.664, 240.1),
    (2015.697, 244.0), (2015.746, 245.6), (2015.795, 246.3), (2015.844, 248.7), (2015.893, 242.4),
    (2015.942, 247.1), (2015.991, 240.8), (2016.023, 237.7), (2016.073, 240.8), (2016.122, 245.6),
    (2016.171, 251.8), (2016.220, 253.4), (2016.269, 251.8), (2016.301, 243.2), (2016.350, 248.7),
    (2016.399, 250.3), (2016.448, 247.1), (2016.497, 240.1), (2016.546, 240.8), (2016.595, 241.6),
    (2016.644, 245.6), (2016.693, 249.5), (2016.742, 244.0), (2016.791, 240.8), (2016.840, 241.6),
    (2016.857, 241.1), (2016.906, 245.8), (2016.955, 249.0), (2017.004, 253.7), (2017.037, 250.5),
    (2017.069, 258.4), (2017.102, 256.8), (2017.135, 260.0), (2017.184, 263.9), (2017.233, 269.4),
    (2017.265, 272.6), (2017.298, 270.2), (2017.347, 275.7), (2017.396, 278.9), (2017.429, 278.9),
    (2017.478, 274.2), (2017.527, 274.2), (2017.576, 274.2), (2017.625, 279.7), (2017.674, 282.8),
    (2017.723, 284.4), (2017.772, 287.6), (2017.821, 293.1), (2017.870, 295.4), (2017.919, 295.4),
    (2017.968, 296.2), (2018.017, 297.8), (2018.066, 296.2), (2018.115, 297.8), (2018.164, 300.2),
    (2018.213, 300.9), (2018.246, 303.3), (2018.279, 300.2), (2018.311, 297.8), (2018.344, 295.4),
    (2018.377, 297.0), (2018.409, 293.1), (2018.442, 291.5), (2018.475, 288.3), (2018.507, 286.8),
    (2018.556, 285.2), (2018.605, 285.2), (2018.654, 283.6), (2018.703, 283.6), (2018.752, 279.7),
    (2018.801, 277.3), (2018.850, 274.2), (2018.883, 275.7), (2018.932, 275.0), (2018.981, 271.8),
    (2019.004, 270.2),
]

EU = [
    (2003.377, 193.4), (2003.426, 191.8), (2003.491, 194.7), (2003.573, 191.1), (2003.638, 191.1),
    (2003.687, 187.1), (2003.752, 190.8), (2003.818, 182.4), (2003.883, 175.4), (2003.948, 166.0),
    (2003.997, 168.3), (2004.040, 173.8), (2004.079, 169.4), (2004.144, 180.1), (2004.210, 191.0),
    (2004.275, 196.5), (2004.341, 199.7), (2004.390, 198.9), (2004.455, 210.2), (2004.537, 208.6),
    (2004.618, 215.3), (2004.667, 214.5), (2004.726, 218.5), (2004.798, 213.8), (2004.880, 205.1),
    (2004.945, 199.7), (2005.001, 198.9), (2005.034, 212.2), (2005.083, 215.3), (2005.125, 225.5),
    (2005.174, 234.9), (2005.207, 241.9), (2005.256, 241.2), (2005.305, 234.9), (2005.354, 238.0),
    (2005.403, 245.1), (2005.452, 239.6), (2005.517, 238.8), (2005.583, 241.2), (2005.599, 241.8),
    (2005.648, 237.1), (2005.697, 236.3), (2005.746, 218.3), (2005.795, 215.9), (2005.844, 215.1),
    (2005.893, 212.8), (2005.942, 207.3), (2005.981, 210.4), (2006.040, 218.3), (2006.105, 223.8),
    (2006.171, 230.8), (2006.220, 238.7), (2006.269, 241.0), (2006.334, 247.3), (2006.399, 250.5),
    (2006.465, 250.5), (2006.514, 248.1), (2006.563, 241.0), (2006.612, 241.8), (2006.661, 245.8),
    (2006.710, 241.8), (2006.759, 237.9), (2006.824, 234.8), (2006.890, 229.3), (2006.955, 224.5),
    (2006.994, 228.5), (2007.053, 223.8), (2007.102, 226.9), (2007.184, 228.5), (2007.233, 226.1),
    (2007.298, 229.3), (2007.363, 227.7), (2007.429, 226.1), (2007.494, 226.1), (2007.560, 230.8),
    (2007.625, 237.1), (2007.674, 237.9), (2007.739, 236.3), (2007.805, 238.7), (2007.854, 238.7),
    (2007.886, 229.3), (2007.935, 226.9), (2007.968, 225.3), (2008.017, 232.4), (2008.066, 234.0),
    (2008.115, 238.7), (2008.164, 245.8), (2008.213, 247.3), (2008.279, 246.6), (2008.328, 251.3),
    (2008.376, 257.6), (2008.426, 261.5), (2008.468, 266.2), (2008.507, 260.7), (2008.556, 259.9),
    (2008.605, 259.1), (2008.638, 260.7), (2008.687, 259.1), (2008.736, 254.4), (2008.785, 247.3),
    (2008.818, 238.7), (2008.850, 226.1), (2008.899, 226.1), (2008.965, 226.9), (2009.014, 230.0),
    (2009.079, 227.7), (2009.145, 232.4), (2009.210, 231.6), (2009.275, 235.5), (2009.341, 237.1),
    (2009.406, 235.5), (2009.455, 236.3), (2009.504, 235.5), (2009.537, 231.6), (2009.602, 232.4),
    (2009.651, 227.7), (2009.700, 220.6), (2009.765, 215.9), (2009.831, 212.8), (2009.896, 212.0),
    (2009.945, 210.4), (2009.994, 215.1), (2010.033, 224.5), (2010.092, 221.3), (2010.141, 227.6),
    (2010.207, 230.8), (2010.272, 233.1), (2010.321, 234.7), (2010.386, 234.7), (2010.452, 235.5),
    (2010.501, 234.7), (2010.566, 230.8), (2010.615, 233.9), (2010.664, 235.5), (2010.713, 233.9),
    (2010.778, 231.6), (2010.827, 230.8), (2010.876, 231.6), (2010.925, 233.9), (2010.975, 237.1),
    (2011.024, 241.8), (2011.073, 241.8), (2011.122, 245.7), (2011.171, 254.3), (2011.220, 262.2),
    (2011.269, 264.5), (2011.318, 271.6), (2011.350, 273.2), (2011.399, 270.0), (2011.448, 266.1),
    (2011.497, 270.8), (2011.546, 276.3), (2011.595, 280.3), (2011.628, 282.6), (2011.661, 280.3),
    (2011.710, 276.3), (2011.759, 278.7), (2011.808, 281.0), (2011.857, 279.5), (2011.906, 276.3),
    (2011.955, 274.8), (2012.004, 282.6), (2012.053, 288.9), (2012.118, 301.5), (2012.184, 303.8),
    (2012.249, 306.2), (2012.314, 312.5), (2012.347, 312.4), (2012.396, 317.1), (2012.462, 319.4),
    (2012.527, 321.8), (2012.576, 324.2), (2012.625, 327.8), (2012.658, 326.5), (2012.690, 320.2),
    (2012.739, 312.4), (2012.788, 305.3), (2012.837, 304.8), (2012.903, 305.3), (2012.952, 304.5),
    (2013.001, 309.2), (2013.050, 313.9), (2013.099, 318.7), (2013.148, 322.6), (2013.197, 323.4),
    (2013.246, 323.4), (2013.278, 325.7), (2013.327, 325.7), (2013.393, 326.5), (2013.458, 327.3),
    (2013.507, 327.3), (2013.556, 325.7), (2013.589, 320.2), (2013.622, 313.9), (2013.671, 309.2),
    (2013.703, 302.9), (2013.736, 295.1), (2013.785, 290.3), (2013.834, 286.4), (2013.883, 279.3),
    (2013.916, 278.1), (2013.965, 280.9), (2014.014, 282.5), (2014.063, 285.6), (2014.112, 288.8),
    (2014.161, 291.1), (2014.210, 293.5), (2014.259, 295.1), (2014.308, 298.2), (2014.357, 299.0),
    (2014.406, 296.6), (2014.455, 295.1), (2014.504, 293.5), (2014.553, 291.9), (2014.602, 291.9),
    (2014.651, 288.0), (2014.700, 284.9), (2014.733, 280.1), (2014.765, 273.9), (2014.798, 266.8),
    (2014.847, 262.9), (2014.896, 263.6), (2014.945, 263.6), (2014.994, 267.6), (2015.043, 272.3),
    (2015.076, 280.1), (2015.109, 289.6), (2015.141, 295.9), (2015.190, 299.0), (2015.239, 300.6),
    (2015.288, 302.9), (2015.337, 305.3), (2015.386, 306.9), (2015.435, 308.4), (2015.468, 312.4),
    (2015.501, 310.8), (2015.533, 306.1), (2015.582, 302.9), (2015.631, 301.4), (2015.664, 295.9),
    (2015.697, 289.6), (2015.729, 284.1), (2015.778, 282.5), (2015.827, 281.7), (2015.860, 276.2),
    (2015.893, 270.7), (2015.925, 267.9), (2015.974, 270.7), (2016.023, 272.3), (2016.073, 273.9),
    (2016.122, 274.6), (2016.171, 275.4), (2016.220, 274.6), (2016.269, 273.9), (2016.318, 272.3),
    (2016.367, 276.2), (2016.416, 278.6), (2016.465, 275.4), (2016.514, 272.3), (2016.563, 271.5),
    (2016.612, 271.5), (2016.661, 269.1), (2016.710, 264.4), (2016.759, 261.3), (2016.808, 262.1),
    (2016.857, 262.4), (2016.906, 264.7), (2016.955, 267.1), (2017.004, 270.2), (2017.037, 278.1),
    (2017.086, 278.9), (2017.135, 281.3), (2017.184, 283.6), (2017.233, 288.3), (2017.282, 291.5),
    (2017.331, 295.4), (2017.380, 298.6), (2017.429, 300.6), (2017.478, 295.4), (2017.527, 297.0),
    (2017.576, 301.3), (2017.625, 301.7), (2017.674, 302.5), (2017.723, 300.2), (2017.772, 297.0),
    (2017.821, 296.2), (2017.870, 293.1), (2017.919, 291.2), (2017.968, 293.1), (2018.017, 295.4),
    (2018.066, 296.2), (2018.115, 298.6), (2018.164, 301.7), (2018.213, 304.9), (2018.262, 304.1),
    (2018.311, 304.4), (2018.360, 306.0), (2018.409, 308.0), (2018.458, 306.9), (2018.491, 300.9),
    (2018.524, 294.6), (2018.556, 289.1), (2018.605, 291.5), (2018.654, 291.5), (2018.703, 288.3),
    (2018.736, 286.0), (2018.785, 286.0), (2018.818, 280.5), (2018.850, 272.6), (2018.883, 267.9),
    (2018.916, 268.7), (2018.948, 272.6), (2018.997, 276.0),
]

# name, data, colour, line width, legend id
SERIES = [
    ("België", BELGIE, "#0000FF", 2.8, "legend"),
    ("Nederland", NEDERLAND, "#FFC000", 2.8, "legend2"),
    ("Frankrijk", FRANKRIJK, "#339966", 2.8, "legend3"),
    ("Duitsland", DUITSLAND, "#948A54", 2.8, "legend4"),
    ("Polen", POLEN, "#DA9694", 2.8, "legend5"),
    ("EU", EU, "#FF0000", 5.0, "legend6"),
]

# ---------------- figure ----------------
W, H = 1835, 683
ML, MR, MT, MB = 140, 4, 15, 72
PW, PH = W - ML - MR, H - MT - MB

fig = go.Figure()
for name, data, color, width, leg in SERIES:
    pts = sorted(data)
    fig.add_trace(go.Scatter(
        x=[p[0] for p in pts], y=[p[1] for p in pts], name=name, mode="lines",
        line=dict(color=color, width=width), legend=leg, hoverinfo="skip",
    ))

svg = (
    f'<svg xmlns="http://www.w3.org/2000/svg" width="{W}" height="{H}" viewBox="0 0 {W} {H}" '
    'preserveAspectRatio="none"><defs>'
    '<linearGradient id="g" x1="0" y1="1" x2="0.5" y2="0.5">'
    '<stop offset="0" stop-color="#CCCCFF"/><stop offset="1" stop-color="#99CCFF"/>'
    '</linearGradient></defs>'
    f'<rect x="0" y="0" width="{W}" height="{H}" fill="url(#g)"/>'
    f'<rect x="{ML}" y="{MT}" width="{PW}" height="{PH}" fill="#FFFFFF"/></svg>'
)
src = "data:image/svg+xml;base64," + base64.b64encode(svg.encode("utf-8")).decode("ascii")

fig.add_layout_image(dict(
    source=src, xref="paper", yref="paper",
    x=-ML / PW, y=1 + MT / PH, sizex=W / PW, sizey=H / PH,
    xanchor="left", yanchor="top", sizing="stretch", layer="below",
))

def legend_at(x_px, y_px):
    return dict(
        orientation="h", xanchor="left", yanchor="middle",
        x=(x_px - ML) / PW, y=1 - (y_px - MT) / PH,
        font=dict(family="DejaVu Sans", size=23, color="#000000"),
        bgcolor="rgba(0,0,0,0)", borderwidth=0, itemwidth=50,
        itemclick=False, itemdoubleclick=False,
    )

ROW1, ROW2 = 47.5, 101.5
COLS = [181, 475, 769]

fig.update_layout(
    width=W, height=H,
    margin=dict(l=ML, r=MR, t=MT, b=MB, pad=0),
    paper_bgcolor="rgba(0,0,0,0)", plot_bgcolor="rgba(0,0,0,0)",
    showlegend=True,
    legend=legend_at(COLS[0], ROW1),
    legend2=legend_at(COLS[1], ROW1),
    legend3=legend_at(COLS[2], ROW1),
    legend4=legend_at(COLS[0], ROW2),
    legend5=legend_at(COLS[1], ROW2),
    legend6=legend_at(COLS[2], ROW2),
    xaxis=dict(
        range=[X_START, X_END], tickmode="array", tickvals=TICK_VALS, ticktext=TICK_TEXT,
        tickangle=90, showgrid=False, zeroline=False, automargin=False,
        showline=True, linecolor="#000000", linewidth=2, ticks="", ticklen=0,
        tickfont=dict(family="Liberation Sans, Arial, sans-serif", size=23, color="#000000"),
        ticklabelstandoff=12,
    ),
    yaxis=dict(
        range=[120, 400], tickmode="array", tickvals=Y_TICKS, automargin=False,
        showgrid=True, gridcolor="#C8C8C8", gridwidth=1.5, zeroline=False,
        showline=True, linecolor="#000000", linewidth=2,
        ticks="outside", ticklen=11, tickwidth=1.5, tickcolor="#333333",
        tickfont=dict(family="DejaVu Sans", size=22, color="#000000"),
        ticklabelstandoff=30,
    ),
    shapes=[
        dict(type="line", xref="paper", yref="paper", x0=0, x1=1, y0=1, y1=1,
             line=dict(color="#9A9A9A", width=2), layer="above"),
        dict(type="line", xref="paper", yref="paper", x0=1, x1=1, y0=0, y1=1,
             line=dict(color="#555555", width=2), layer="above"),
    ],
    annotations=[
        dict(text="eur/100 kg", xref="paper", yref="paper", x=(21 - ML) / PW,
             y=1 - (334 - MT) / PH, textangle=-90, showarrow=False,
             xanchor="center", yanchor="middle",
             font=dict(family="Liberation Sans, sans-serif", size=20, color="#000000")),
        dict(text="<b>wekelijks</b>", xref="paper", yref="paper", x=(1827 - ML) / PW,
             y=1 - (620 - MT) / PH, showarrow=False, xanchor="right", yanchor="middle",
             font=dict(family="DejaVu Sans", size=17, color="#000000")),
    ],
)

fig.write_html(
    "out.html",
    config={"responsive": False, "displayModeBar": False},
    post_script="document.body.style.margin='0';document.body.style.overflow='hidden';",
)
